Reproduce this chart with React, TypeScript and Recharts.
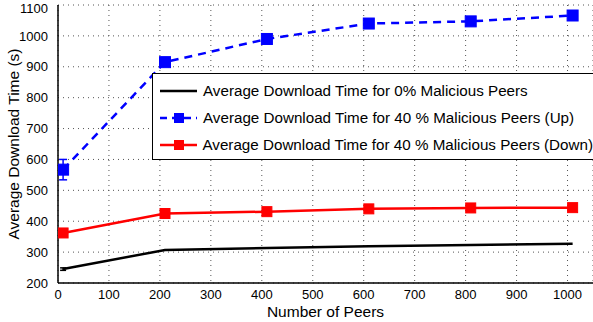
import {
  LineChart,
  Line,
  XAxis,
  YAxis,
  CartesianGrid,
  ErrorBar,
} from "recharts";

const peers = [10, 210, 410, 610, 810, 1010];
const timeZero = [245, 307, 313, 319, 323, 327];
const errZero = [4, 0, 0, 0, 0, 0];
const timeUp = [567, 915, 990, 1040, 1047, 1066];
const errUp = [33, 12, 10, 10, 7, 10];
const timeDown = [362, 425, 431, 440, 443, 444];
const errDown = [4, 4, 3, 3, 3, 3];

const xTicks = [0, 100, 200, 300, 400, 500, 600, 700, 800, 900, 1000];
const yTicks = [200, 300, 400, 500, 600, 700, 800, 900, 1000, 1100];

const seriesNames = [
  "Average Download Time for 0% Malicious Peers",
  "Average Download Time for 40 % Malicious Peers (Up)",
  "Average Download Time for 40 % Malicious Peers (Down)",
];

const rows = peers.map((p, i) => ({
  peers: p,
  zero: timeZero[i],
  zeroErr: errZero[i],
  up: timeUp[i],
  upErr: errUp[i],
  down: timeDown[i],
  downErr: errDown[i],
}));

const FONT = "'Liberation Sans', Arial, Helvetica, sans-serif";

const Square = (color: string, size: number) => (props: any) => {
  const { cx, cy, index } = props;
  if (cx == null || cy == null) return <g key={index} />;
  return (
    <rect
      key={index}
      x={cx - size / 2}
      y={cy - size / 2}
      width={size}
      height={size}
      fill={color}
      stroke={color}
    />
  );
};

function LegendBox() {
  const items = [
    { color: "#000", dash: undefined, marker: false },
    { color: "#0000ff", dash: "7 5", marker: true },
    { color: "#ff0000", dash: undefined, marker: true },
  ];
  return (
    <div
      style={{
        position: "absolute",
        left: 152,
        top: 73,
        border: "1.5px solid #000",
        background: "#fff",
        width: 442,
        height: 87,
        boxSizing: "border-box",
        fontFamily: FONT,
        fontSize: 15.2,
        color: "#000",
        paddingTop: 3,
      }}
    >
      {items.map((it, i) => (
        <div
          key={i}
          style={{ display: "flex", alignItems: "center", height: 27 }}
        >
          <svg width={40} height={14} style={{ marginLeft: 6 }}>
            <line
              x1={1}
              y1={7}
              x2={38}
              y2={7}
              stroke={it.color}
              strokeWidth={2.5}
              strokeDasharray={it.dash}
            />
            {it.marker && (
              <rect x={15} y={2} width={10} height={10} fill={it.color} />
            )}
          </svg>
          <span style={{ marginLeft: 4, whiteSpace: "nowrap" }}>
            {seriesNames[i]}
          </span>
        </div>
      ))}
    </div>
  );
}

export default function App() {
  return (
    <div style={{ position: "absolute", left: 0, top: 0, background: "#fff" }}>
      <LineChart
        width={594}
        height={322}
        data={rows}
        margin={{ top: 5, right: 1, bottom: 0, left: 0 }}
        style={{ fontFamily: FONT }}
      >
        <CartesianGrid stroke="#555" strokeDasharray="1 4" />
        <XAxis
          dataKey="peers"
          type="number"
          domain={[0, 1050]}
          ticks={xTicks}
          allowDataOverflow
          height={39}
          tickLine={false}
          axisLine={{ stroke: "#000", strokeWidth: 1.5 }}
          tick={{ fill: "#000", fontSize: 13 }}
          tickMargin={1}
          label={{
            value: "Number of Peers",
            position: "insideBottom",
            offset: 5,
            fill: "#000",
            fontSize: 15.5,
          }}
        />
        <XAxis
          xAxisId="top"
          orientation="top"
          dataKey="peers"
          type="number"
          domain={[0, 1050]}
          height={0}
          tick={false}
          tickLine={false}
          axisLine={{ stroke: "#000", strokeWidth: 1.5 }}
        />
        <YAxis
          type="number"
          domain={[200, 1100]}
          ticks={yTicks}
          width={58}
          tickLine={false}
          axisLine={{ stroke: "#000", strokeWidth: 1.5 }}
          tick={{ fill: "#000", fontSize: 13 }}
          tickMargin={4}
          label={{
            value: "Average Download Time (s)",
            angle: -90,
            position: "insideLeft",
            offset: 13,
            style: { textAnchor: "middle" },
            fill: "#000",
            fontSize: 15.5,
          }}
        />
        <YAxis
          yAxisId="right"
          orientation="right"
          domain={[200, 1100]}
          width={0}
          tick={false}
          tickLine={false}
          axisLine={{ stroke: "#000", strokeWidth: 1.5 }}
        />
        <Line
          dataKey="zero"
          stroke="#000"
          strokeWidth={2.5}
          dot={false}
          activeDot={false}
          isAnimationActive={false}
        >
          <ErrorBar
            dataKey="zeroErr"
            direction="y"
            width={3}
            stroke="#000"
            strokeWidth={1.5}
          />
        </Line>
        <Line
          dataKey="down"
          stroke="#ff0000"
          strokeWidth={2.5}
          dot={Square("#ff0000", 10)}
          activeDot={false}
          isAnimationActive={false}
        >
          <ErrorBar
            dataKey="downErr"
            direction="y"
            width={4}
            stroke="#ff0000"
            strokeWidth={1.5}
          />
        </Line>
        <Line
          dataKey="up"
          stroke="#0000ff"
          strokeWidth={2.5}
          strokeDasharray="8 6"
          dot={Square("#0000ff", 11)}
          activeDot={false}
          isAnimationActive={false}
        >
          <ErrorBar
            dataKey="upErr"
            direction="y"
            width={4}
            stroke="#0000ff"
            strokeWidth={1.5}
          />
        </Line>
      </LineChart>
      <LegendBox />
    </div>
  );
}
